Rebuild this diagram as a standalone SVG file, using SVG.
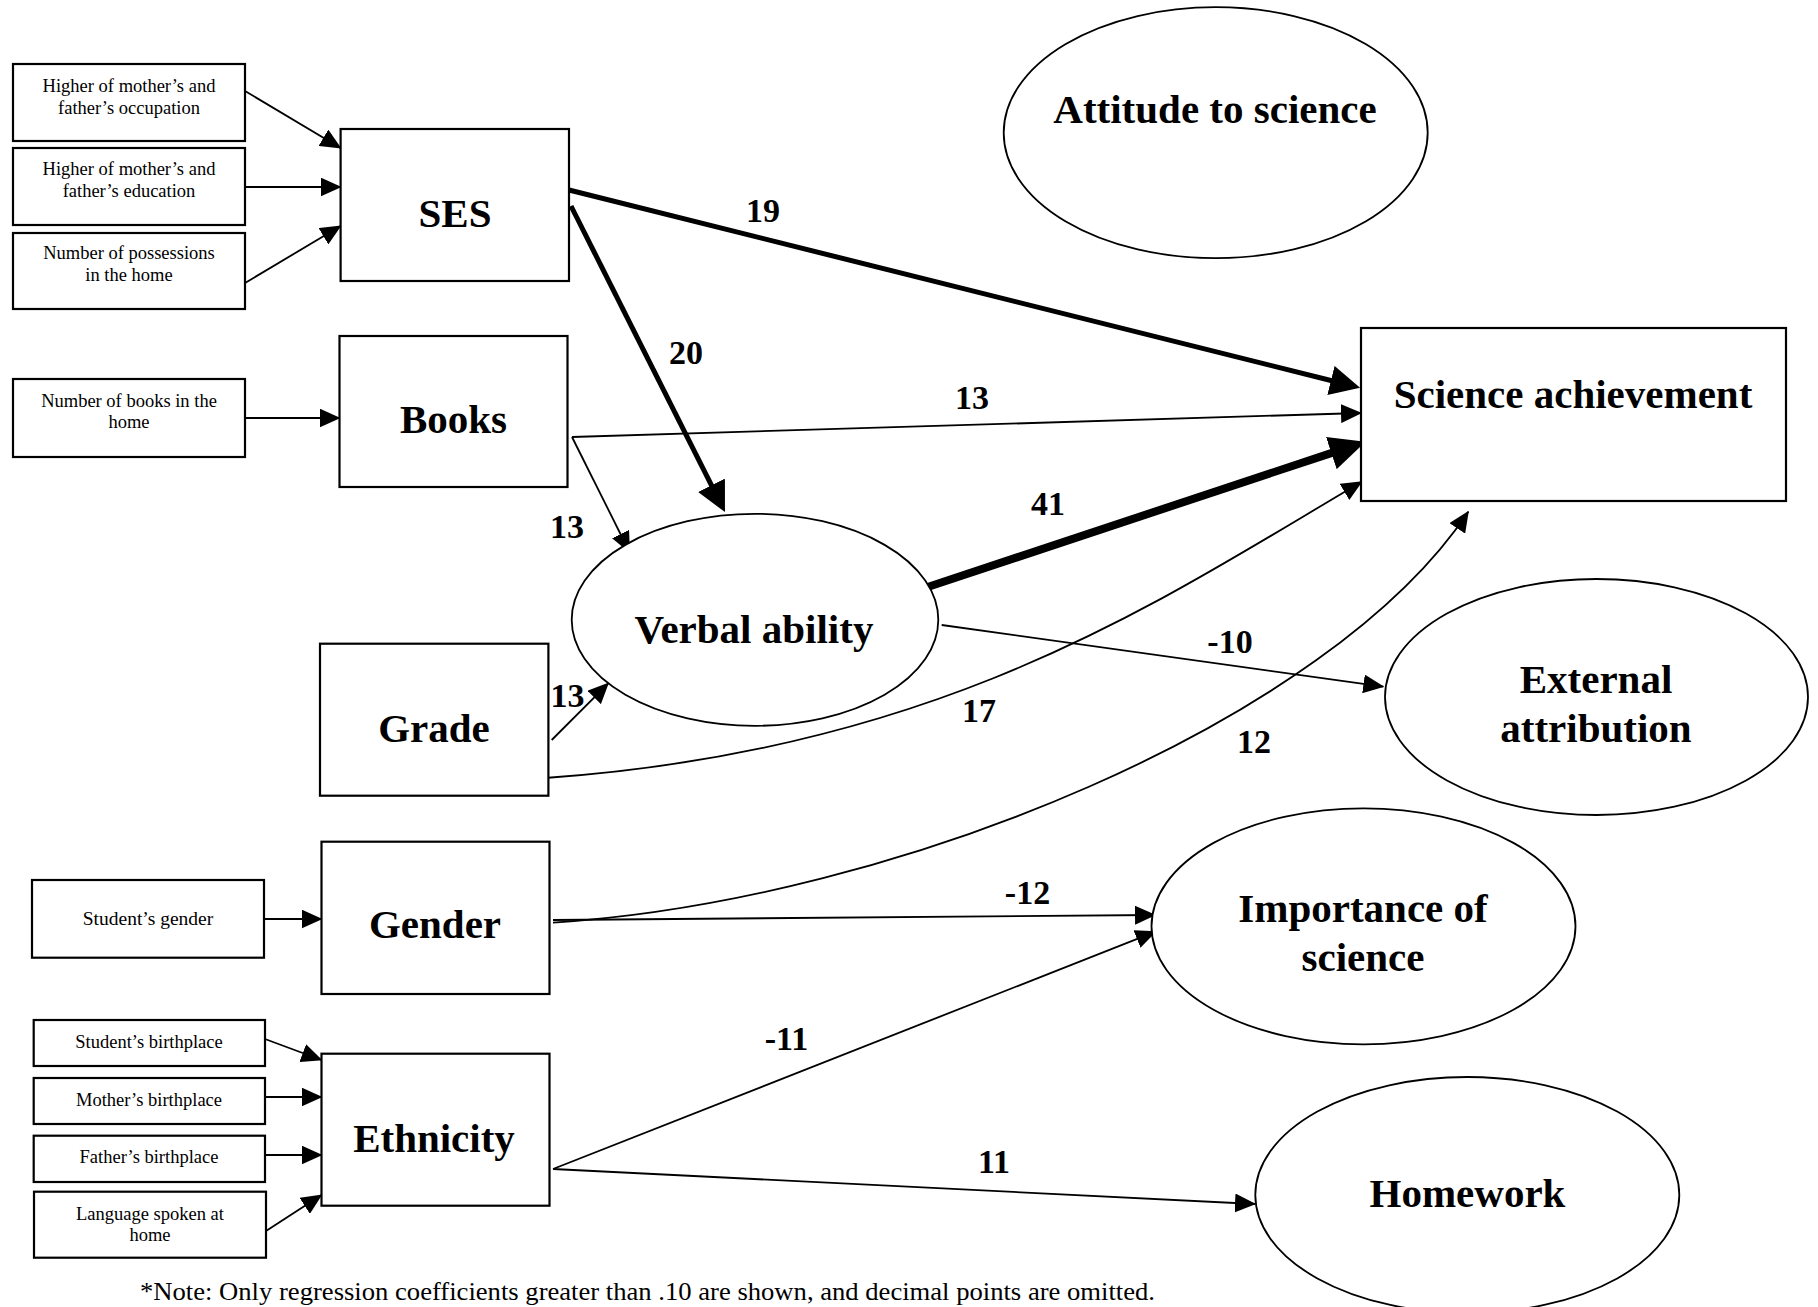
<svg xmlns="http://www.w3.org/2000/svg" width="1818" height="1307" viewBox="0 0 1818 1307">
  <style>
    .box { fill: #fff; stroke: #000; stroke-width: 2.2; }
    .ell { fill: #fff; stroke: #000; stroke-width: 1.8; }
    .small { font-family: "Liberation Serif", "Times New Roman", serif; font-size: 18.5px; text-anchor: middle; fill: #000; }
    .big { font-family: "Liberation Serif", "Times New Roman", serif; font-size: 41px; font-weight: bold; text-anchor: middle; fill: #000; }
    .coef { font-family: "Liberation Serif", "Times New Roman", serif; font-size: 34px; font-weight: bold; text-anchor: middle; fill: #000; }
    .note { font-family: "Liberation Serif", "Times New Roman", serif; font-size: 26px; fill: #000; }
    .thin { fill: none; stroke: #000; stroke-width: 1.8; }
    .mid { fill: none; stroke: #000; stroke-width: 5; }
    .heavy { fill: none; stroke: #000; stroke-width: 8; }
  </style>
  <defs>
    <marker id="a" markerUnits="userSpaceOnUse" viewBox="0 0 21 19" markerWidth="21" markerHeight="19" refX="20" refY="9.5" orient="auto">
      <path d="M0,0 L21,9.5 L0,19 Z" fill="#000"/>
    </marker>
    <marker id="ab" markerUnits="userSpaceOnUse" viewBox="0 0 30 30" markerWidth="30" markerHeight="30" refX="2" refY="15" orient="auto">
      <path d="M0,0 L30,15 L0,30 Z" fill="#000"/>
    </marker>
    <marker id="abx" markerUnits="userSpaceOnUse" viewBox="0 0 36 34" markerWidth="36" markerHeight="34" refX="3" refY="17" orient="auto">
      <path d="M0,0 L36,17 L0,34 Z" fill="#000"/>
    </marker>
  </defs>

  <!-- connectors -->
  <g id="connectors">
    <!-- indicators into SES, Books, Gender, Ethnicity -->
    <line class="thin" x1="245" y1="91" x2="340.6" y2="148" marker-end="url(#a)"/>
    <line class="thin" x1="245" y1="187" x2="340.6" y2="187" marker-end="url(#a)"/>
    <line class="thin" x1="245" y1="283" x2="340.6" y2="226" marker-end="url(#a)"/>
    <line class="thin" x1="245" y1="418" x2="339.5" y2="418" marker-end="url(#a)"/>
    <line class="thin" x1="264" y1="919" x2="321.5" y2="919" marker-end="url(#a)"/>
    <line class="thin" x1="265" y1="1039" x2="321.5" y2="1060" marker-end="url(#a)"/>
    <line class="thin" x1="265" y1="1097" x2="321.5" y2="1097" marker-end="url(#a)"/>
    <line class="thin" x1="265" y1="1155" x2="321.5" y2="1155" marker-end="url(#a)"/>
    <line class="thin" x1="266" y1="1231" x2="321.5" y2="1195" marker-end="url(#a)"/>

    <!-- SES paths -->
    <line class="mid" x1="569" y1="190" x2="1332.9" y2="381" marker-end="url(#ab)"/>
    <line class="mid" x1="571" y1="206" x2="712.4" y2="487.1" marker-end="url(#ab)"/>

    <!-- Books paths -->
    <line class="thin" x1="572" y1="437" x2="1361" y2="413" marker-end="url(#a)"/>
    <line class="thin" x1="572" y1="437" x2="629.5" y2="552" marker-end="url(#a)"/>

    <!-- Verbal ability paths -->
    <line class="heavy" x1="927.7" y1="587" x2="1334.2" y2="452.1" marker-end="url(#abx)"/>
    <line class="thin" x1="941.7" y1="625" x2="1383.3" y2="686.7" marker-end="url(#a)"/>

    <!-- Grade paths -->
    <line class="thin" x1="551.7" y1="740" x2="608.3" y2="683.3" marker-end="url(#a)"/>
    <path class="thin" d="M545,778 C945,750 1161,600 1361.7,481.7" marker-end="url(#a)"/>

    <!-- Gender paths -->
    <path class="thin" d="M553,922.7 C900,900 1330,720 1468.3,511.7" marker-end="url(#a)"/>
    <line class="thin" x1="553" y1="920" x2="1155" y2="915" marker-end="url(#a)"/>

    <!-- Ethnicity paths -->
    <line class="thin" x1="553" y1="1169" x2="1155.6" y2="931.7" marker-end="url(#a)"/>
    <line class="thin" x1="553" y1="1169" x2="1255" y2="1204" marker-end="url(#a)"/>
  </g>

  <!-- path coefficients -->
  <g id="coefficients">
    <text class="coef" x="763" y="222">19</text>
    <text class="coef" x="686" y="364">20</text>
    <text class="coef" x="972" y="409">13</text>
    <text class="coef" x="567" y="538">13</text>
    <text class="coef" x="1048" y="515">41</text>
    <text class="coef" x="1230" y="653">-10</text>
    <text class="coef" x="567.5" y="707">13</text>
    <text class="coef" x="979" y="722">17</text>
    <text class="coef" x="1254" y="753">12</text>
    <text class="coef" x="1027.5" y="904">-12</text>
    <text class="coef" x="786.5" y="1050">-11</text>
    <text class="coef" x="994" y="1173">11</text>
  </g>

  <!-- indicator boxes -->
  <g id="occupation">
    <rect class="box" x="13" y="64" width="232" height="77"/>
    <text class="small" x="129" y="92">Higher of mother’s and</text>
    <text class="small" x="129" y="114">father’s occupation</text>
  </g>
  <g id="education">
    <rect class="box" x="13" y="148" width="232" height="77"/>
    <text class="small" x="129" y="175">Higher of mother’s and</text>
    <text class="small" x="129" y="197">father’s education</text>
  </g>
  <g id="possessions">
    <rect class="box" x="13" y="233" width="232" height="76"/>
    <text class="small" x="129" y="259">Number of possessions</text>
    <text class="small" x="129" y="281">in the home</text>
  </g>
  <g id="books-home">
    <rect class="box" x="13" y="379" width="232" height="78"/>
    <text class="small" x="129" y="407">Number of books in the</text>
    <text class="small" x="129" y="428">home</text>
  </g>
  <g id="student-gender">
    <rect class="box" x="32" y="880" width="232" height="77.7"/>
    <text class="small" x="148" y="925" style="font-size:19.5px">Student’s gender</text>
  </g>
  <g id="student-birthplace">
    <rect class="box" x="33.7" y="1020" width="231.3" height="46"/>
    <text class="small" x="149" y="1048">Student’s birthplace</text>
  </g>
  <g id="mother-birthplace">
    <rect class="box" x="33.7" y="1078" width="231.3" height="46"/>
    <text class="small" x="149" y="1106">Mother’s birthplace</text>
  </g>
  <g id="father-birthplace">
    <rect class="box" x="33.7" y="1135.7" width="231.3" height="46.3"/>
    <text class="small" x="149" y="1163">Father’s birthplace</text>
  </g>
  <g id="language">
    <rect class="box" x="34" y="1191.7" width="232" height="66"/>
    <text class="small" x="150" y="1220">Language spoken at</text>
    <text class="small" x="150" y="1241">home</text>
  </g>

  <!-- construct boxes -->
  <g id="ses">
    <rect class="box" x="340.6" y="129" width="228.4" height="152"/>
    <text class="big" x="455" y="227">SES</text>
  </g>
  <g id="books">
    <rect class="box" x="339.5" y="336" width="228" height="151"/>
    <text class="big" x="453.5" y="433">Books</text>
  </g>
  <g id="grade">
    <rect class="box" x="320" y="643.7" width="228.4" height="152"/>
    <text class="big" x="434" y="742">Grade</text>
  </g>
  <g id="gender">
    <rect class="box" x="321.5" y="841.7" width="228" height="152.3"/>
    <text class="big" x="435" y="938">Gender</text>
  </g>
  <g id="ethnicity">
    <rect class="box" x="321.5" y="1053.7" width="228" height="152"/>
    <text class="big" x="434" y="1152">Ethnicity</text>
  </g>
  <g id="science-achievement">
    <rect class="box" x="1361" y="328" width="425" height="173"/>
    <text class="big" x="1573" y="408">Science achievement</text>
  </g>

  <!-- latent / outcome ellipses -->
  <g id="attitude">
    <ellipse class="ell" cx="1215.7" cy="132.7" rx="212" ry="125.5"/>
    <text class="big" x="1215" y="123">Attitude to science</text>
  </g>
  <g id="verbal-ability">
    <ellipse class="ell" cx="755" cy="619.8" rx="183.3" ry="106"/>
    <text class="big" x="754" y="643">Verbal ability</text>
  </g>
  <g id="external-attribution">
    <ellipse class="ell" cx="1596.5" cy="697" rx="211.5" ry="118"/>
    <text class="big" x="1596" y="693">External</text>
    <text class="big" x="1596" y="742">attribution</text>
  </g>
  <g id="importance">
    <ellipse class="ell" cx="1363.5" cy="926.3" rx="212" ry="118"/>
    <text class="big" x="1363" y="922">Importance of</text>
    <text class="big" x="1363" y="971">science</text>
  </g>
  <g id="homework">
    <ellipse class="ell" cx="1467.3" cy="1195" rx="212" ry="118"/>
    <text class="big" x="1467.5" y="1207">Homework</text>
  </g>

  <!-- footnote -->
  <text class="note" x="140" y="1300" textLength="1015" lengthAdjust="spacingAndGlyphs">*Note: Only regression coefficients greater than .10 are shown, and decimal points are omitted.</text>
</svg>
